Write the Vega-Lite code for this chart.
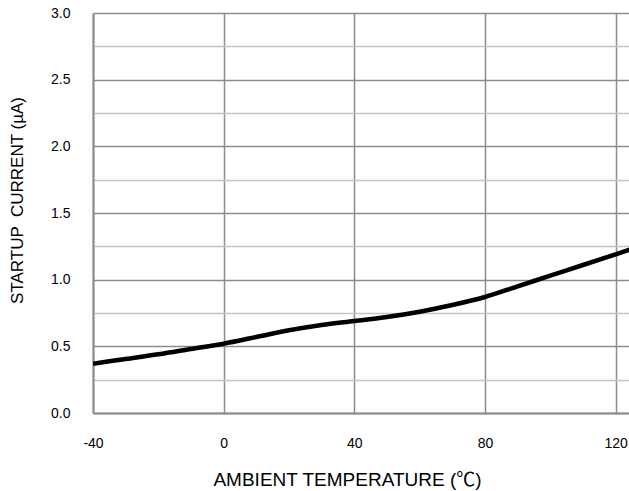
{
  "$schema": "https://vega.github.io/schema/vega-lite/v6.json",
  "width": 536,
  "height": 400,
  "autosize": "none",
  "padding": {"left": 93, "top": 13, "right": 0, "bottom": 78},
  "background": "white",
  "title": {
    "text": "Startup Current vs. Ambient Temperature",
    "fontSize": 21,
    "fontWeight": "bold",
    "font": "Liberation Sans",
    "anchor": "start",
    "frame": "group",
    "baseline": "alphabetic",
    "offset": 15,
    "dx": 33
  },
  "data": {
    "values": [
      {"temp": -40, "current": 0.37},
      {"temp": -30, "current": 0.405},
      {"temp": -20, "current": 0.44},
      {"temp": -10, "current": 0.48},
      {"temp": 0, "current": 0.52},
      {"temp": 10, "current": 0.57},
      {"temp": 20, "current": 0.62},
      {"temp": 30, "current": 0.66},
      {"temp": 40, "current": 0.69},
      {"temp": 50, "current": 0.72},
      {"temp": 60, "current": 0.76},
      {"temp": 70, "current": 0.81},
      {"temp": 80, "current": 0.87},
      {"temp": 90, "current": 0.95},
      {"temp": 100, "current": 1.03},
      {"temp": 110, "current": 1.11},
      {"temp": 120, "current": 1.19},
      {"temp": 125, "current": 1.23}
    ]
  },
  "mark": {"type": "line", "color": "black", "strokeWidth": 4.5, "interpolate": "monotone", "clip": true},
  "encoding": {
    "x": {
      "field": "temp",
      "type": "quantitative",
      "scale": {"domain": [-40, 124.1], "nice": false, "zero": false},
      "axis": {
        "values": [-40, 0, 40, 80, 120],
        "labelExpr": "toString(datum.value)",
        "title": "AMBIENT TEMPERATURE (℃)",
        "titleFontSize": 19,
        "titleFontWeight": "normal",
        "titleFont": "Liberation Sans, Noto Sans CJK JP",
        "titleColor": "black",
        "titleX": 254,
        "titleY": 66,
        "titleAnchor": "middle",
        "titleAlign": "center",
        "titleBaseline": "middle",
        "labelFontSize": 14,
        "labelFont": "Liberation Sans",
        "labelColor": "black",
        "labelPadding": 23,
        "labelFlush": false,
        "ticks": false,
        "tickSize": 0,
        "domain": true,
        "domainColor": "#8c8c8c",
        "domainWidth": 2,
        "grid": true,
        "gridColor": "#8c8c8c",
        "gridWidth": 1.5
      }
    },
    "y": {
      "field": "current",
      "type": "quantitative",
      "scale": {"domain": [0, 3], "nice": false},
      "axis": {
        "values": [0, 0.25, 0.5, 0.75, 1, 1.25, 1.5, 1.75, 2, 2.25, 2.5, 2.75, 3],
        "labelExpr": "datum.value % 0.5 === 0 ? format(datum.value, '.1f') : ''",
        "title": "STARTUP \u00a0CURRENT (µA)",
        "titleFontSize": 17,
        "titleFontWeight": "normal",
        "titleFont": "Liberation Sans",
        "titleColor": "black",
        "titleX": -76,
        "titleY": 187,
        "titleAngle": -90,
        "titleAlign": "center",
        "titleBaseline": "middle",
        "labelFontSize": 14,
        "labelFont": "Liberation Sans",
        "labelColor": "black",
        "labelPadding": 23,
        "labelFlush": false,
        "ticks": false,
        "tickSize": 0,
        "domain": true,
        "domainColor": "#8c8c8c",
        "domainWidth": 2,
        "grid": true,
        "gridColor": {"condition": {"test": "datum.value % 0.5 === 0", "value": "#8c8c8c"}, "value": "#c4c4c4"},
        "gridWidth": 1.5
      }
    }
  },
  "config": {"view": {"stroke": null}}
}
